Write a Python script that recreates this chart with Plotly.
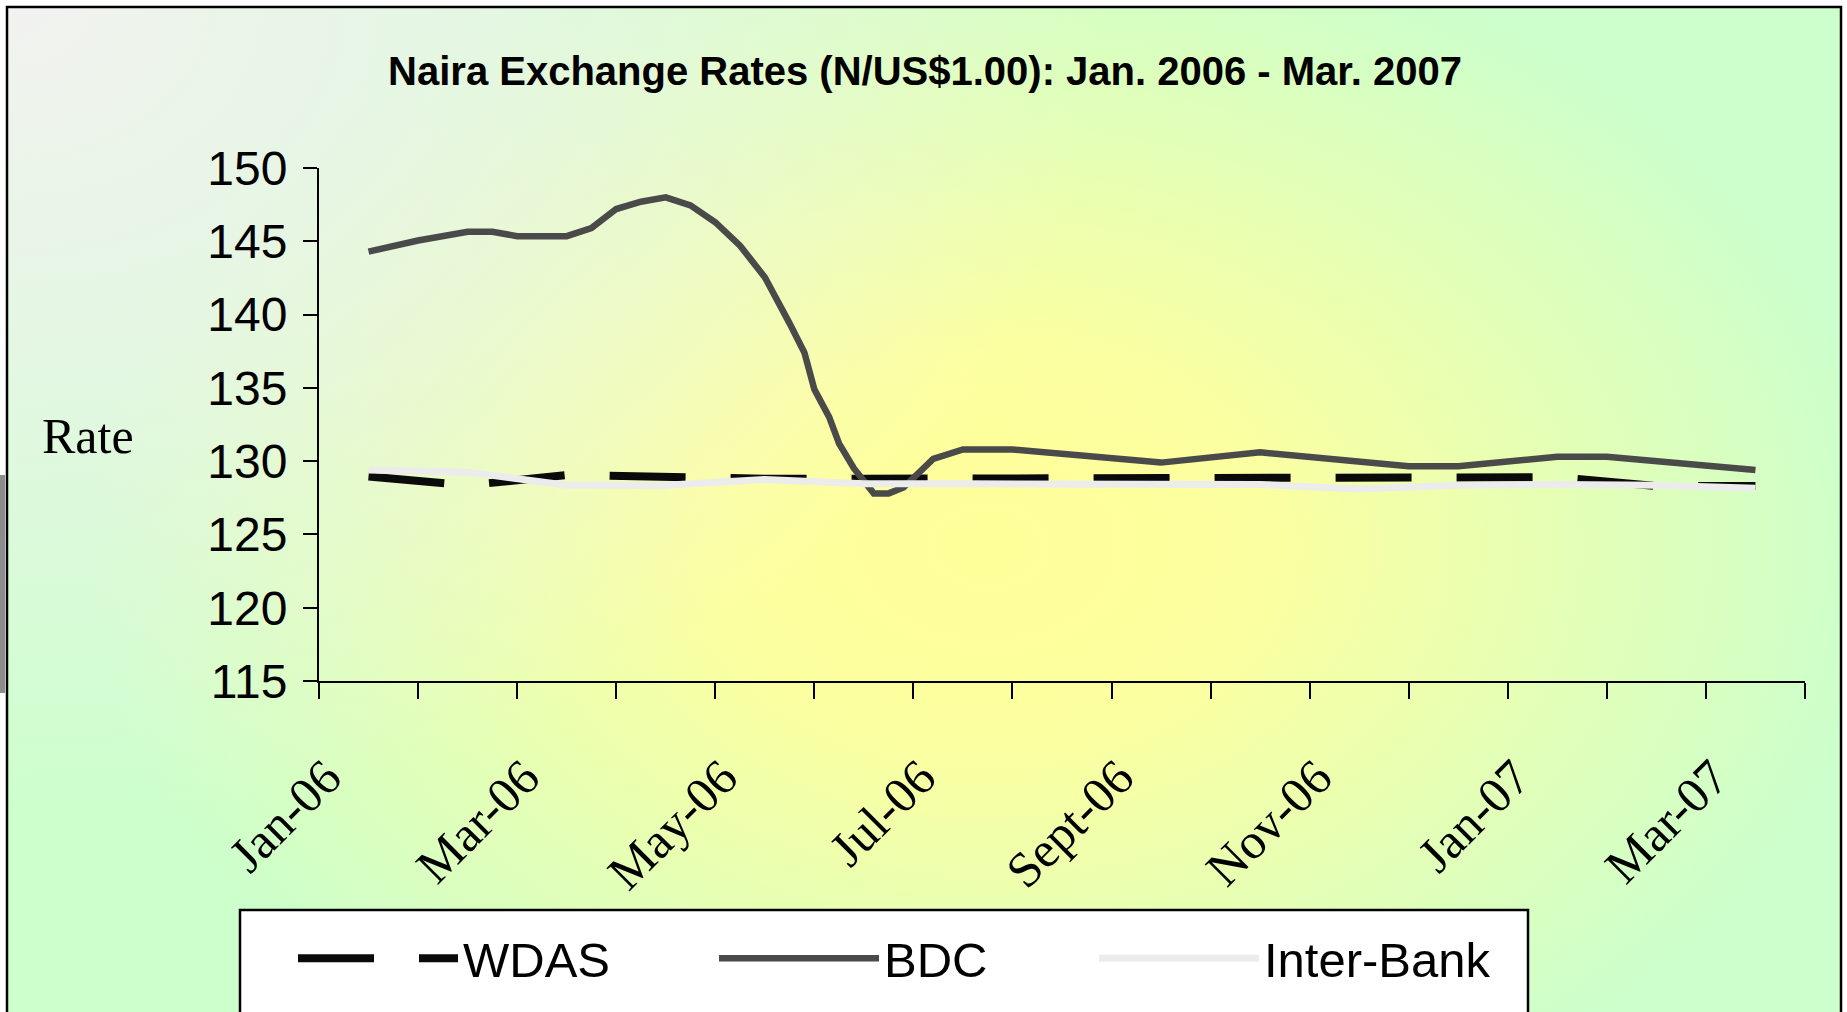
import base64
import plotly.graph_objects as go

# ---------------- data ----------------
month_labels = ["Jan-06", "Feb-06", "Mar-06", "Apr-06", "May-06", "Jun-06", "Jul-06",
                "Aug-06", "Sept-06", "Oct-06", "Nov-06", "Dec-06", "Jan-07", "Feb-07", "Mar-07"]
month_idx = list(range(len(month_labels)))

wdas = [128.95, 128.35, 129.05, 128.9, 128.8, 128.8, 128.8, 128.8, 128.8, 128.8,
        128.8, 128.8, 128.9, 128.3, 128.3]
interbank = [129.4, 129.25, 128.35, 128.35, 128.75, 128.45, 128.45, 128.45, 128.45,
             128.4, 128.1, 128.35, 128.4, 128.35, 128.15]

# BDC read at finer (intra-month) positions, x in month index
bdc_x = [0, 0.5, 1, 1.25, 1.5, 2, 2.25, 2.5, 2.75, 3, 3.25, 3.5, 3.75, 4, 4.25, 4.4,
         4.5, 4.65, 4.75, 4.9, 5.1, 5.25, 5.4, 5.7, 6, 6.5, 8, 9, 10.5, 11, 12, 12.5, 14]
bdc = [144.3, 145.05, 145.65, 145.65, 145.35, 145.35, 145.9, 147.2, 147.7, 148.0,
       147.45, 146.3, 144.7, 142.55, 139.4, 137.4, 134.9, 133.0, 131.2, 129.5, 127.8,
       127.8, 128.2, 130.15, 130.8, 130.8, 129.9, 130.6, 129.65, 129.65, 130.3, 130.3, 129.4]

label_idx = [0, 2, 4, 6, 8, 10, 12, 14]
label_text = [month_labels[i] for i in label_idx]
y_ticks = [115, 120, 125, 130, 135, 140, 145, 150]

# ---------------- geometry helpers (page pixel coords -> paper coords) ----------------
W, H = 1847, 1012
PLOT_X0, PLOT_X1, PLOT_Y0, PLOT_Y1 = 319, 1805, 168, 681   # page coords of plot area
L, R, T, B = PLOT_X0, W - PLOT_X1, PLOT_Y0, H - PLOT_Y1
PW, PH = W - L - R, H - T - B


def xp(px):
    return (px - L) / PW


def yp(py):
    return (H - B - py) / PH


# background gradient (inside the frame)
FX0, FY0, FX1, FY1 = 7, 7, 1841, 1040
gw, gh = FX1 - FX0, FY1 - FY0
svg = f'''<svg xmlns="http://www.w3.org/2000/svg" width="{gw}" height="{gh}" viewBox="0 0 {gw} {gh}">
<defs>
<radialGradient id="g1" gradientUnits="userSpaceOnUse" cx="0" cy="0" r="1"
 gradientTransform="translate(980 540) scale(900 640)">
<stop offset="0" stop-color="#ffff99"/>
<stop offset="0.3" stop-color="#fcffa0"/>
<stop offset="1" stop-color="#ccffcc"/>
</radialGradient>
<radialGradient id="g2" gradientUnits="userSpaceOnUse" cx="0" cy="0" r="1"
 gradientTransform="translate(0 0) scale(1100 820)">
<stop offset="0" stop-color="#f2f2f0" stop-opacity="1"/>
<stop offset="0.45" stop-color="#f2f2f0" stop-opacity="0.6"/>
<stop offset="1" stop-color="#f2f2f0" stop-opacity="0"/>
</radialGradient>
</defs>
<rect x="0" y="0" width="{gw}" height="{gh}" fill="url(#g1)"/>
<rect x="0" y="0" width="{gw}" height="{gh}" fill="url(#g2)"/>
</svg>'''
svg_uri = "data:image/svg+xml;base64," + base64.b64encode(svg.encode()).decode()

fig = go.Figure()

fig.add_trace(go.Scatter(
    x=month_idx, y=wdas, name="WDAS", mode="lines", legend="legend",
    line=dict(color="#0a0a0a", width=8, dash="76px,45px"),
))
fig.add_trace(go.Scatter(
    x=bdc_x, y=bdc, name="BDC", mode="lines", legend="legend2",
    line=dict(color="#4a4a4a", width=6.5),
))
fig.add_trace(go.Scatter(
    x=month_idx, y=interbank, name="Inter-Bank", mode="lines", legend="legend3",
    line=dict(color="#ececec", width=7),
))

legend_common = dict(
    orientation="h", y=yp(920), xanchor="left", yanchor="top",
    bgcolor="rgba(0,0,0,0)", borderwidth=0,
    font=dict(family="Liberation Sans", size=49, color="black"),
    itemwidth=160,
)

fig.update_layout(
    width=W, height=H,
    margin=dict(l=L, r=R, t=T, b=B, autoexpand=False),
    paper_bgcolor="white",
    plot_bgcolor="rgba(0,0,0,0)",
    title=dict(
        text="<b>Naira Exchange Rates (N/US$1.00): Jan. 2006 - Mar. 2007</b>",
        x=925 / W, xref="container", xanchor="center",
        y=1 - 71 / H, yref="container", yanchor="middle",
        font=dict(family="Liberation Sans", size=40, color="black"),
    ),
    xaxis=dict(
        range=[-0.5, 14.5],
        tickvals=label_idx, ticktext=label_text,
        ticks="", tickangle=-45,
        tickfont=dict(family="Liberation Serif", size=50, color="black"),
        ticklabelstandoff=45, ticklabelshift=-42,
        showgrid=False, zeroline=False,
        showline=True, linecolor="black", linewidth=2,
        minor=dict(tickvals=[i - 0.5 for i in range(16)], ticks="outside",
                   ticklen=16, tickwidth=2, tickcolor="black", showgrid=False),
    ),
    yaxis=dict(
        range=[115, 150], tickvals=y_ticks,
        ticks="outside", ticklen=14, tickwidth=2, tickcolor="black",
        tickfont=dict(family="Liberation Sans", size=48, color="black"),
        ticklabelstandoff=6,
        showgrid=False, zeroline=False,
        showline=True, linecolor="black", linewidth=2,
    ),
    showlegend=True,
    legend=dict(x=xp(293), **legend_common),
    legend2=dict(x=xp(714), **legend_common),
    legend3=dict(x=xp(1094), **legend_common),
    images=[dict(
        source=svg_uri, xref="paper", yref="paper",
        x=xp(FX0), y=yp(FY0), sizex=xp(FX1) - xp(FX0), sizey=yp(FY0) - yp(FY1),
        xanchor="left", yanchor="top", sizing="stretch", layer="below",
    )],
    shapes=[
        # outer frame
        dict(type="rect", xref="paper", yref="paper",
             x0=xp(FX0), x1=xp(FX1), y0=yp(FY0), y1=yp(FY1),
             line=dict(color="black", width=2.5), fillcolor="rgba(0,0,0,0)", layer="above"),
        # legend box
        dict(type="rect", xref="paper", yref="paper",
             x0=xp(240), x1=xp(1528), y0=yp(910), y1=yp(1040),
             line=dict(color="black", width=2.5), fillcolor="white", layer="above"),
        # grey sliver at left edge
        dict(type="rect", xref="paper", yref="paper",
             x0=xp(0), x1=xp(5), y0=yp(475), y1=yp(693),
             line=dict(width=0), fillcolor="#8c8c8c", layer="above"),
    ],
    annotations=[dict(
        text="Rate", xref="paper", yref="paper", x=xp(40), y=yp(436),
        xanchor="left", yanchor="middle", showarrow=False,
        font=dict(family="Liberation Serif", size=50, color="black"),
    )],
)

# remove the default 8px body margin so the figure fills the window exactly
fig.write_html("out.html", config={"displayModeBar": False},
               post_script="document.body.style.margin='0px';")
